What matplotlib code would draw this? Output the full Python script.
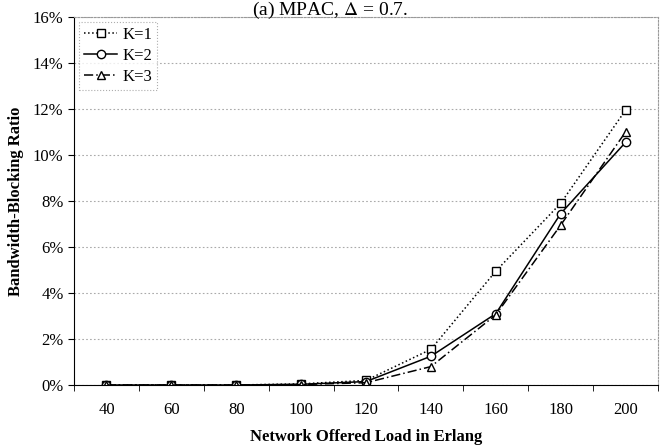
import matplotlib.pyplot as plt
from matplotlib.ticker import FuncFormatter, FixedLocator

plt.rcParams['font.family'] = ['Liberation Serif', 'DejaVu Serif']
plt.rcParams['mathtext.fontset'] = 'stix'

# offered load (Erlang) and blocking ratio in percent
loads = [40, 60, 80, 100, 120, 140, 160, 180, 200]
k1 = [0.0, 0.0, 0.0, 0.05, 0.2, 1.55, 4.95, 7.9, 11.95]
k2 = [0.0, 0.0, 0.0, 0.03, 0.15, 1.25, 3.1, 7.45, 10.55]
k3 = [0.0, 0.0, 0.0, 0.02, 0.1, 0.8, 3.05, 6.95, 11.0]
y_ticks = [0, 2, 4, 6, 8, 10, 12, 14, 16]

fig = plt.figure(figsize=(6.6, 4.45), dpi=100)
ax = fig.add_axes([74 / 660, 1 - 385 / 445, 584 / 660, 368 / 445])

ax.plot(loads, k1, linestyle=':', color='black', lw=1.1, marker='s',
        mfc='white', mec='black', ms=6, label='K=1')
ax.plot(loads, k2, linestyle='-', color='black', lw=1.1, marker='o',
        mfc='white', mec='black', ms=6, label='K=2')
ax.plot(loads, k3, linestyle=(0, (6, 2, 1, 2)), color='black', lw=1.1, marker='^',
        mfc='white', mec='black', ms=6, label='K=3')

ax.set_xlim(30, 210)
ax.set_ylim(0, 16)
ax.set_xticks(loads)
ax.xaxis.set_minor_locator(FixedLocator(list(range(30, 211, 20))))
ax.tick_params(axis='x', which='major', length=0, pad=12, labelsize=12)
ax.tick_params(axis='x', which='minor', length=4, direction='out')
ax.set_yticks(y_ticks)
ax.yaxis.set_major_formatter(FuncFormatter(lambda v, p: f'{int(v)}%'))
ax.tick_params(axis='y', length=4, direction='out', labelsize=12)

ax.grid(axis='y', linestyle=(0, (1.5, 2)), color='#aaaaaa', lw=0.8)
ax.set_axisbelow(True)
for side in ['top', 'right']:
    ax.spines[side].set_linestyle((0, (1.5, 1.5)))
    ax.spines[side].set_color('#999999')
    ax.spines[side].set_linewidth(0.8)

ax.set_xlabel('Network Offered Load in Erlang', fontsize=12, fontweight='bold', labelpad=8)
ax.set_ylabel('Bandwidth-Blocking Ratio', fontsize=12, fontweight='bold', labelpad=6)
fig.text(0.5, 1 - 15 / 445, r'(a) MPAC, $\Delta$ = 0.7.', ha='center', va='baseline', fontsize=14)

leg = ax.legend(loc='upper left', fontsize=12, frameon=True, fancybox=False,
                handlelength=2.0, borderaxespad=0.3, labelspacing=0.3,
                handletextpad=0.3, borderpad=0.3)
leg.get_frame().set_edgecolor('#999999')
leg.get_frame().set_linestyle(':')
leg.get_frame().set_linewidth(0.8)

fig.savefig('out.png', dpi=100)
